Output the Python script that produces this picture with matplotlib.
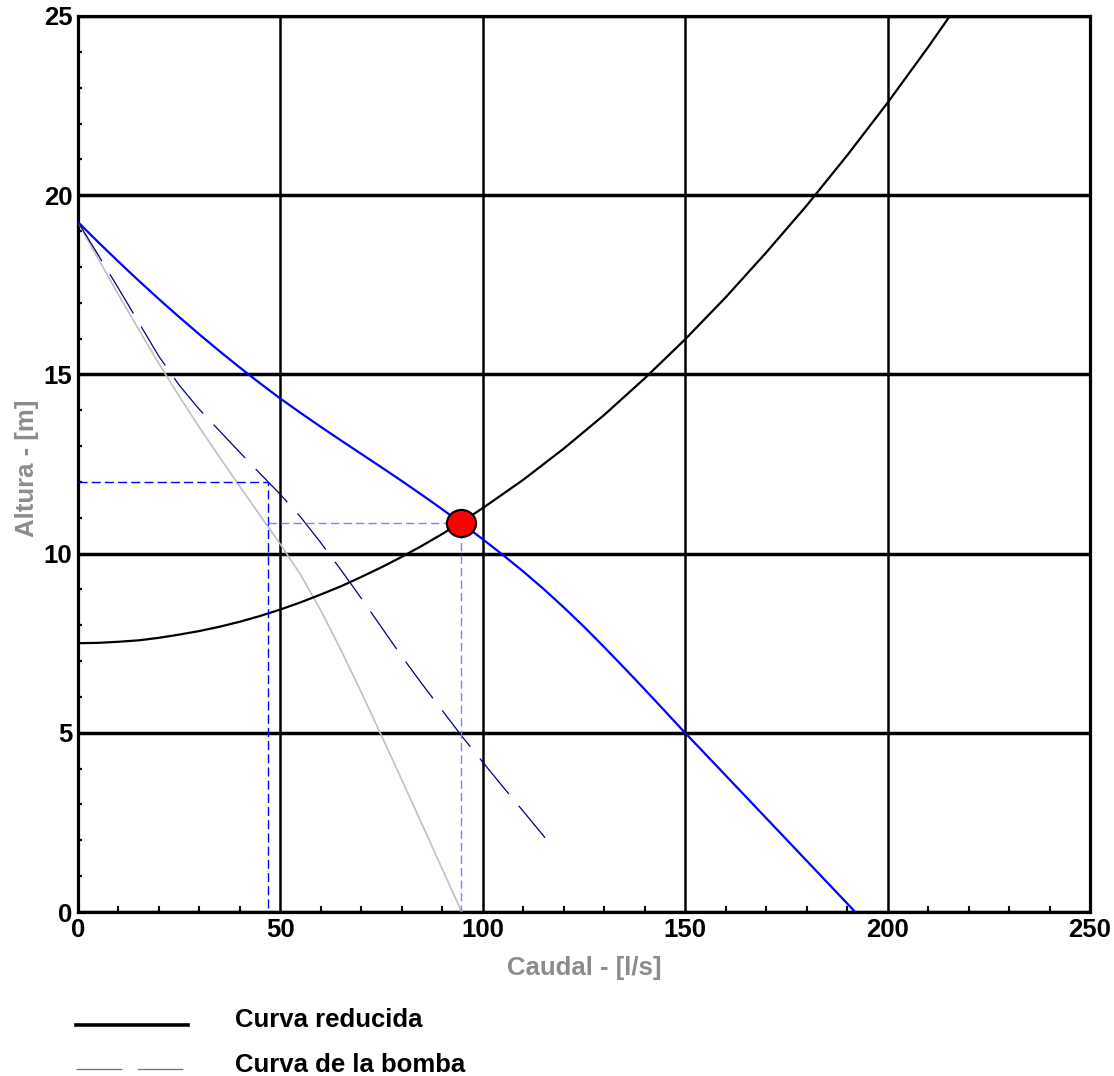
import matplotlib
matplotlib.use('Agg')
import matplotlib.pyplot as plt
from matplotlib.lines import Line2D
from matplotlib.path import Path
from matplotlib.ticker import MultipleLocator

plt.rcParams['font.family'] = ['Liberation Sans', 'DejaVu Sans']
plt.rcParams['font.weight'] = 'bold'
plt.rcParams['lines.scale_dashes'] = False

# ---------------- data ----------------
x_ticks = [0, 50, 100, 150, 200, 250]
y_ticks = [0, 5, 10, 15, 20, 25]

# system curve (black)
q_system = [0, 5, 10, 15, 20, 25, 30, 35, 40, 45, 50, 55, 60, 65, 70, 75, 80,
            85, 90, 95, 100, 110, 120, 130, 140, 150, 160, 170, 180, 190, 200,
            210, 216]
h_system = [7.50, 7.51, 7.54, 7.58, 7.65, 7.74, 7.84, 7.96, 8.10, 8.26, 8.44,
            8.64, 8.86, 9.09, 9.35, 9.62, 9.91, 10.22, 10.55, 10.90, 11.27,
            12.06, 12.93, 13.87, 14.89, 15.98, 17.15, 18.40, 19.71, 21.11,
            22.58, 24.13, 25.10]

# blue curve
q_blue = [0, 5, 10, 15, 20, 25, 30, 35, 40, 45, 50, 55, 60, 65, 70, 75, 80,
          85, 90, 95, 100, 105, 110, 115, 120, 125, 130, 135, 140, 145, 150,
          155, 160, 165, 170, 175, 180, 185, 190, 192]
h_blue = [19.25, 18.69, 18.145, 17.615, 17.10, 16.60, 16.115, 15.645, 15.19,
          14.75, 14.325, 13.925, 13.535, 13.155, 12.78, 12.405, 12.025, 11.635,
          11.235, 10.825, 10.40, 9.96, 9.50, 9.015, 8.50, 7.96, 7.39, 6.805,
          6.21, 5.605, 4.995, 4.405, 3.81, 3.215, 2.62, 2.025, 1.43, 0.835,
          0.24, 0.0]

# grey curve
q_gray = [0, 5, 10, 15, 20, 25, 30, 35, 40, 45, 50, 55, 60, 65, 70, 75, 80,
          85, 90, 94.8]
h_gray = [19.25, 18.225, 17.225, 16.25, 15.30, 14.39, 13.52, 12.685, 11.87,
          11.06, 10.26, 9.41, 8.41, 7.30, 6.125, 4.915, 3.685, 2.445, 1.195,
          0.0]

# pump curve (navy dashed)
q_pump = [0, 5, 10, 15, 20, 25, 30, 35, 40, 45, 50, 55, 60, 65, 70, 75, 80,
          85, 90, 95, 100, 105, 110, 115.4]
h_pump = [19.25, 18.33, 17.40, 16.45, 15.50, 14.70, 14.02, 13.42, 12.82,
          12.23, 11.65, 11.02, 10.30, 9.54, 8.75, 7.94, 7.13, 6.36, 5.62, 4.88,
          4.18, 3.49, 2.81, 2.07]

# guide points
guide_q = [47.0]
guide_h = [12.0]
op_q = [94.5]
op_h = [10.85]

legend_labels = ['Curva reducida', 'Curva de la bomba']

# ---------------- figure ----------------
W, H = 1114, 1076
fig = plt.figure(figsize=(W / 100, H / 100), dpi=100)
L, R, T, B = 78, 1090, 16, 912
ax = fig.add_axes([L / W, 1 - B / H, (R - L) / W, (B - T) / H])

ax.set_xlim(0, 250)
ax.set_ylim(0, 25)
ax.set_xticks(x_ticks)
ax.set_yticks(y_ticks)
ax.set_xticklabels([str(v) for v in x_ticks])
ax.set_yticklabels([str(v) for v in y_ticks])
ax.xaxis.set_minor_locator(MultipleLocator(10))
ax.yaxis.set_minor_locator(MultipleLocator(1))

ax.tick_params(axis='both', which='major', length=0, labelsize=18.5)
ax.tick_params(axis='x', which='major', pad=4)
ax.tick_params(axis='y', which='major', pad=4)
ax.tick_params(axis='x', which='minor', direction='in', length=4, width=1.5)
ax.tick_params(axis='y', which='minor', direction='in', length=3, width=1.6)
for lab in ax.get_xticklabels() + ax.get_yticklabels():
    lab.set_fontweight('bold')

for sp in ax.spines.values():
    sp.set_linewidth(2.3)
    sp.set_color('black')

ax.set_axisbelow(True)
ax.xaxis.grid(True, which='major', color='black', linewidth=1.8)
ax.yaxis.grid(True, which='major', color='black', linewidth=2.5)

# curves
ax.plot(q_gray, h_gray, color='#c0c0c0', lw=1.2, zorder=3)
ax.plot(q_pump, h_pump, color='#000080', lw=0.9, dashes=(33, 11), zorder=4)
ax.plot(q_system, h_system, color='black', lw=1.6, zorder=5)
ax.plot(q_blue, h_blue, color='#0000ff', lw=1.6, zorder=5)

# guide dashed lines
ax.plot([0, guide_q[0], guide_q[0]], [guide_h[0], guide_h[0], 0],
        color='#0000ff', lw=1.0, dashes=(6.5, 3), zorder=6)
ax.plot([guide_q[0], op_q[0], op_q[0]], [op_h[0], op_h[0], 0],
        color='#8080ff', lw=1.0, dashes=(6, 3), zorder=6)

# operating point (slightly elliptical marker)
circ = Path.unit_circle()
ell = Path(circ.vertices * [1.0, 0.93], circ.codes)
ax.plot(op_q, op_h, marker=ell, ms=21, mfc='#ff0000', mec='black', mew=1.5,
        ls='none', zorder=10)

# axis labels
fig.text(584 / W, 1 - 975 / H, 'Caudal - [l/s]', ha='center', va='baseline',
         fontsize=18.5, fontweight='bold', color='#8c8c8c')
fig.text(27 / W, 1 - 468 / H, 'Altura - [m]', ha='center', va='center',
         rotation=90, fontsize=18.5, fontweight='bold', color='#8c8c8c')

# legend (drawn manually)
fig.add_artist(Line2D([76 / W, 188 / W], [1 - 1025 / H, 1 - 1025 / H],
                      transform=fig.transFigure, color='black', lw=2.6))
fig.add_artist(Line2D([76 / W, 183 / W], [1 - 1069 / H, 1 - 1069 / H],
                      transform=fig.transFigure, color='#707070', lw=0.9,
                      dashes=(33, 11)))
fig.text(235 / W, 1 - 1027 / H, legend_labels[0], ha='left', va='baseline',
         fontsize=18.5, fontweight='bold', color='black')
fig.text(235 / W, 1 - 1072 / H, legend_labels[1], ha='left', va='baseline',
         fontsize=18.5, fontweight='bold', color='black')

fig.savefig('out.png', dpi=100)
